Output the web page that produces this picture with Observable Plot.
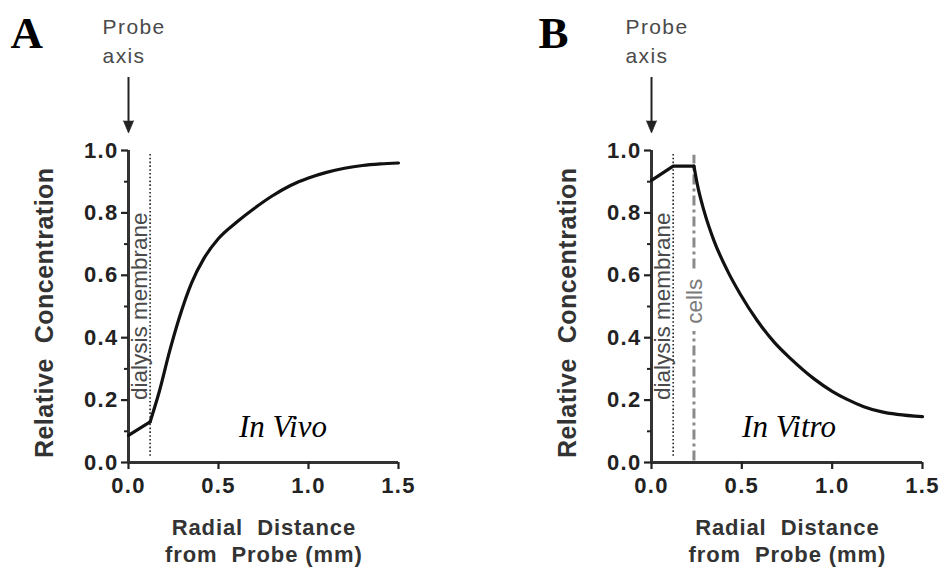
<!DOCTYPE html>
<html>
<head>
<meta charset="utf-8">
<script src="https://cdn.jsdelivr.net/npm/d3@7"></script>
<script src="https://cdn.jsdelivr.net/npm/@observablehq/plot@0.6"></script>
<style>
  html, body { margin: 0; padding: 0; background: #fff; }
  #wrap { display: flex; width: 941px; height: 567px; overflow: hidden; }
  #wrap svg { display: block; }
</style>
</head>
<body>
<div id="wrap"></div>
<script>
// ---- data ----
const xTicks = [0, 0.5, 1.0, 1.5];
const yTicks = [0, 0.2, 0.4, 0.6, 0.8, 1.0];
const yMinorTicks = [0.1, 0.3, 0.5, 0.7, 0.9];

// Panel A (In Vivo)
const vivoInnerX = [0, 0.12];
const vivoInnerY = [0.087, 0.13];
const vivoOuterX = [0.12, 0.17, 0.23, 0.28, 0.35, 0.42, 0.5, 0.6, 0.7, 0.8, 0.9, 1.0, 1.1, 1.2, 1.3, 1.4, 1.5];
const vivoOuterY = [0.13, 0.225, 0.36, 0.46, 0.575, 0.655, 0.718, 0.77, 0.815, 0.855, 0.888, 0.912, 0.93, 0.943, 0.952, 0.957, 0.96];

// Panel B (In Vitro)
const vitroInnerX = [0, 0.12, 0.235];
const vitroInnerY = [0.904, 0.95, 0.95];
const vitroOuterX = [0.235, 0.253, 0.29, 0.345, 0.42, 0.49, 0.585, 0.68, 0.77, 0.9, 1.0, 1.08, 1.175, 1.27, 1.36, 1.5];
const vitroOuterY = [0.95, 0.893, 0.808, 0.712, 0.615, 0.541, 0.455, 0.385, 0.333, 0.268, 0.228, 0.203, 0.179, 0.163, 0.154, 0.147];

// annotation positions (data units)
const membraneX = 0.12;
const cellsX = 0.235;
const cellsSegments = [{y1: 0.005, y2: 0.42}, {y1: 0.62, y2: 0.985}];

const panelLetters = ["A", "B"];
const panelTags = ["In Vivo", "In Vitro"];
const yTitle = "Relative\u00a0 Concentration";
const xTitle = "Radial\u00a0 Distance\nfrom\u00a0 Probe (mm)";
const probeLabel = "Probe\naxis";

const rows = (xs, ys) => xs.map((x, i) => ({x, y: ys[i]}));

const SANS = "'Liberation Sans', Arial, Helvetica, sans-serif";
const SERIF = "'Liberation Serif', 'Times New Roman', serif";

function panel(opts) {
  const {width, marginLeft, marginRight, inner, outer, letter, letterX, tag, tagX, cells} = opts;
  const marks = [
    // axis lines
    Plot.ruleX([0], {y1: 0, y2: 1, stroke: "#333", strokeWidth: 3}),
    Plot.ruleY([0], {x1: 0, x2: 1.5, stroke: "#333", strokeWidth: 3}),
    Plot.axisX(xTicks, {tickSize: 7, tickPadding: 8, strokeWidth: 2.2, tickFormat: d3.format(".1f"),
      fontSize: 22, fontWeight: "bold", label: null, fontFamily: SANS}),
    Plot.axisY(yTicks, {tickSize: 7, tickPadding: 3, strokeWidth: 2.2, tickFormat: d3.format(".1f"),
      fontSize: 22, fontWeight: "bold", label: null, fontFamily: SANS}),
    Plot.axisY(yMinorTicks, {tickSize: 4, strokeWidth: 2, tickFormat: () => "", label: null}),
    // membrane dotted line
    Plot.ruleX([membraneX], {y1: 0.02, y2: 0.99, stroke: "#222", strokeWidth: 1.6, strokeDasharray: "1.6,2.2"}),
    Plot.text(["dialysis membrane"], {x: 0.104, y: 0.2, rotate: -90, textAnchor: "start", lineAnchor: "bottom",
      fontSize: 22.5, fill: "#4a4a4a", fontFamily: SANS})
  ];
  if (cells) {
    marks.push(
      Plot.ruleX(cellsSegments, {x: cellsX, y1: "y1", y2: "y2", stroke: "#8a8a8a", strokeWidth: 3,
        strokeDasharray: "10,4,3,4"}),
      Plot.text(["cells"], {x: 0.28, y: 0.445, rotate: -90, textAnchor: "start", lineAnchor: "bottom",
        fontSize: 22.5, fill: "#7a7a7a", fontFamily: SANS})
    );
  }
  marks.push(
    // curves
    Plot.line(rows(...inner), {x: "x", y: "y", stroke: "#111", strokeWidth: 3.2}),
    Plot.line(rows(...outer), {x: "x", y: "y", stroke: "#111", strokeWidth: 3.2, curve: "monotone-x"}),
    // tag
    Plot.text([tag], {x: tagX, y: 0.083, textAnchor: "middle", lineAnchor: "bottom", fontSize: 31,
      fontStyle: "italic", fontFamily: SERIF, fill: "#000"}),
    // panel letter
    Plot.text([letter], {x: letterX, y: 1.327, textAnchor: "start", lineAnchor: "bottom", fontSize: 45,
      fontWeight: "bold", fontFamily: SERIF, fill: "#000"}),
    // probe axis label and arrow
    Plot.text([probeLabel], {x: -0.144, y: 1.282, textAnchor: "start", lineAnchor: "bottom", fontSize: 21,
      lineHeight: 1.38, fill: "#4a4a4a", fontFamily: SANS}),
    Plot.ruleX([0], {y1: 1.234, y2: 1.085, stroke: "#222", strokeWidth: 2}),
    Plot.vector([0], {x: 0, y: 1.095, length: 12, r: 5, rotate: 180, shape: "spike", anchor: "start",
      stroke: "#222", fill: "#222", fillOpacity: 1, strokeWidth: 0.8}),
    // axis titles
    Plot.text([yTitle], {x: -0.463, y: 0.48, rotate: -90, fontSize: 25, fontWeight: "bold", fill: "#333",
      fontFamily: SANS}),
    Plot.text([xTitle], {x: 0.752, y: -0.32, textAnchor: "middle", lineAnchor: "bottom", fontSize: 22,
      lineHeight: 1.23, fontWeight: "bold", fill: "#333", fontFamily: SANS})
  );

  const svg = Plot.plot({
    width, height: 567, marginLeft, marginRight, marginTop: 150, marginBottom: 105,
    x: {domain: [0, 1.5], label: null},
    y: {domain: [0, 1], label: null},
    style: {fontFamily: SANS, color: "#222", background: "white", overflow: "visible"},
    marks
  });

  // fine typographic spacing
  d3.select(svg).selectAll("text").each(function() {
    const t = this.textContent;
    if (/^\d\.\d$/.test(t)) this.setAttribute("letter-spacing", "1.3");
    else if (t.startsWith("Radial")) this.setAttribute("letter-spacing", "0.9");
    else if (t.startsWith("Relative")) this.setAttribute("letter-spacing", "0.5");
    else if (t.startsWith("Probe")) this.setAttribute("letter-spacing", "1.4");
  });
  return svg;
}

const wrap = document.getElementById("wrap");
wrap.appendChild(panel({
  width: 470, marginLeft: 128, marginRight: 72,
  inner: [vivoInnerX, vivoInnerY], outer: [vivoOuterX, vivoOuterY],
  letter: panelLetters[0], letterX: -0.656, tag: panelTags[0], tagX: 0.858, cells: false
}));
wrap.appendChild(panel({
  width: 471, marginLeft: 181, marginRight: 19,
  inner: [vitroInnerX, vitroInnerY], outer: [vitroOuterX, vitroOuterY],
  letter: panelLetters[1], letterX: -0.625, tag: panelTags[1], tagX: 0.761, cells: true
}));
</script>
</body>
</html>
